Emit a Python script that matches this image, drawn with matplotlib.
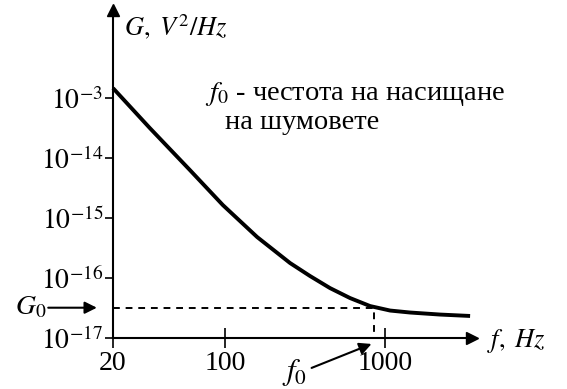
import matplotlib
matplotlib.use("Agg")
import matplotlib.pyplot as plt
from matplotlib.ticker import NullLocator

plt.rcParams["font.family"] = ["Liberation Serif", "DejaVu Serif"]
plt.rcParams["mathtext.fontset"] = "stix"

# noise spectral density, 1/f region flattening out to the white-noise floor
f_hz = [20, 34, 60.5, 97, 159, 255, 340, 453, 604, 806, 1075, 1433, 2206, 3396]
g_v2hz = [1.47e-13, 3.16e-14, 6.3e-15, 1.65e-15, 4.82e-16, 1.78e-16, 1.08e-16,
          6.8e-17, 4.64e-17, 3.41e-17, 2.87e-17, 2.66e-17, 2.46e-17, 2.33e-17]

f0 = 854
g0 = 3.2e-17

x_ticks = [20, 100, 1000]
x_labels = ["20", "100", "1000"]
y_ticks = [1e-13, 1e-14, 1e-15, 1e-16, 1e-17]
y_labels = ["$10^{-3}$", "$10^{-14}$", "$10^{-15}$", "$10^{-16}$", "$10^{-17}$"]

W, H = 567, 389
fig = plt.figure(figsize=(W / 100, H / 100), dpi=100)
ax = fig.add_axes([113 / W, 51 / H, 359 / W, 328 / H])

ax.set_xscale("log")
ax.set_yscale("log")
ax.set_xlim(20, 3490)
ax.set_ylim(1e-17, 10 ** -11.53)

ax.plot(f_hz, g_v2hz, color="black", lw=2.8, solid_joinstyle="round",
        solid_capstyle="butt", clip_on=False)
ax.plot([20, f0, f0], [g0, g0, 1e-17], color="black", lw=1.4, ls=(0, (3.5, 3)))

ax.set_xticks(x_ticks, x_labels)
ax.set_yticks(y_ticks, y_labels)
ax.xaxis.set_minor_locator(NullLocator())
ax.yaxis.set_minor_locator(NullLocator())
ax.tick_params(axis="x", direction="inout", length=15, width=1.2, labelsize=20, pad=2)
ax.tick_params(axis="y", direction="out", length=6, width=1.2, labelsize=20, pad=1)

for side in ("top", "right"):
    ax.spines[side].set_visible(False)
for side in ("left", "bottom"):
    ax.spines[side].set_linewidth(1.5)

# arrow heads on the axes
ax.plot(1, 0, ">k", ms=9, transform=ax.transAxes, clip_on=False)
ax.plot(0, 1, "^k", ms=9, transform=ax.transAxes, clip_on=False)

fig.text(124 / W, 1 - 35 / H, r"$G,\ V^2/Hz$", fontsize=19, va="baseline")
fig.text(487 / W, 1 - 347 / H, r"$f,\ Hz$", fontsize=19, va="baseline")

fig.text(205 / W, 1 - 100 / H, "$f_0$ - честота на насищане", fontsize=20.5, va="baseline")
fig.text(225 / W, 1 - 129 / H, "на шумовете", fontsize=20.5, va="baseline")

arrow = dict(arrowstyle="-|>", lw=1.5, color="black", mutation_scale=18,
             shrinkA=0, shrinkB=0)
ax.annotate("", xy=(-0.045, g0), xycoords=ax.get_yaxis_transform(),
            xytext=(-35, 0), textcoords="offset points", arrowprops=arrow)
ax.annotate("$G_0$", xy=(-0.045, g0), xycoords=ax.get_yaxis_transform(),
            xytext=(-36, 0), textcoords="offset points", ha="right", va="center",
            fontsize=20)
ax.annotate("", xy=(f0, -0.015), xycoords=ax.get_xaxis_transform(),
            xytext=(-45, -18), textcoords="offset points",
            arrowprops=dict(arrow, shrinkB=2))
ax.annotate("$f_0$", xy=(f0, -0.015), xycoords=ax.get_xaxis_transform(),
            xytext=(-48, -21), textcoords="offset points", ha="right", va="center",
            fontsize=22)

fig.savefig("out.png", dpi=100)
